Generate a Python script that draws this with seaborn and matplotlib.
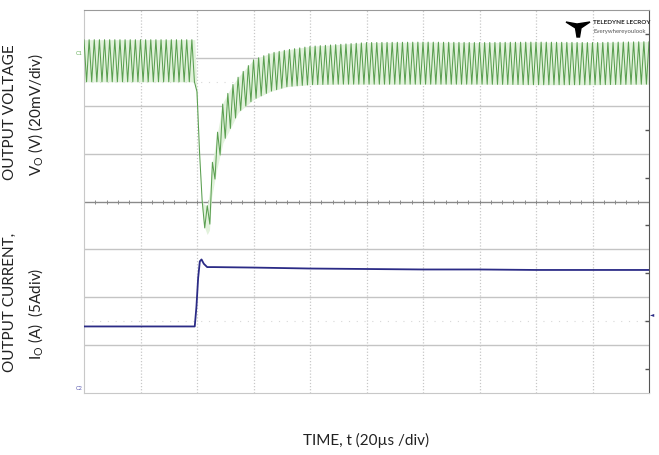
import numpy as np
import pandas as pd
import seaborn as sns
import matplotlib.pyplot as plt
from matplotlib.patches import Polygon

# time axis in divisions (20us/div), amplitudes in divisions
# output voltage ripple envelope (top / bottom of the ripple band)
t_env = [0.0, 1.96, 2.02, 2.05, 2.08, 2.12, 2.18, 2.22, 2.26, 2.35, 2.46, 2.61,
         2.73, 3.0, 3.3, 3.6, 4.0, 4.5, 5.0, 6.0, 7.0, 8.0, 9.0, 10.0]
v_upper = [3.38, 3.38, 1.75, 0.98, 0.05, -0.05, -0.10, 0.20, 0.73, 1.36, 2.07, 2.40,
           2.60, 2.96, 3.10, 3.17, 3.24, 3.28, 3.32, 3.33, 3.32, 3.33, 3.32, 3.34]
v_lower = [2.50, 2.50, 1.65, 0.90, -0.05, -0.50, -0.69, -0.60, 0.10, 0.67, 1.23, 1.57,
           1.86, 2.13, 2.30, 2.40, 2.44, 2.45, 2.45, 2.45, 2.45, 2.44, 2.44, 2.45]
ripple_per_div = 11  # ripple cycles per division

# output current trace
t_cur = [0.0, 1.96, 1.99, 2.02, 2.05, 2.08, 2.12, 2.18, 2.3, 3.0, 4.0, 5.0,
         6.0, 7.0, 8.0, 9.0, 10.0]
i_cur = [-2.61, -2.61, -2.2, -1.6, -1.25, -1.21, -1.30, -1.37, -1.37, -1.38, -1.40,
         -1.41, -1.42, -1.42, -1.43, -1.43, -1.43]

# ripple zigzag between the envelopes
t_rip = np.arange(0, 10.0001, 0.5 / ripple_per_div)
hi = np.interp(t_rip, t_env, v_upper)
lo = np.interp(t_rip, t_env, v_lower)
v_rip = np.where(np.arange(len(t_rip)) % 2 == 0, hi, lo)
volt = pd.DataFrame({"t": t_rip, "v": v_rip})
cur = pd.DataFrame({"t": t_cur, "i": i_cur})

sns.set_style("white")
plt.rcParams["font.family"] = ["Lato", "DejaVu Sans"]
plt.rcParams["mathtext.fontset"] = "custom"
plt.rcParams["mathtext.rm"] = "Lato"

fig = plt.figure(figsize=(6.59, 4.55), dpi=100)
ax = fig.add_axes([84 / 659, 1 - 393 / 455, 565 / 659, 383 / 455])

# graticule
for y in range(-3, 4):
    if y == 0:
        continue
    ax.axhline(y, color="#c4c4c4", lw=1.0, zorder=0)
for x in range(1, 10):
    ax.axvline(x, color="#c8c8c8", lw=0.9, ls=(0, (1, 1.5)), zorder=0)
ax.axhline(0, color="#8a8a8a", lw=1.0, zorder=1)
for y in (2.5, -2.5):
    ax.axhline(y, color="#d8d8d8", lw=0.8, ls=(0, (1, 6)), zorder=0)
ticks = np.arange(0.2, 10, 0.2)
ax.plot(ticks, np.zeros_like(ticks), ls="none", marker="|", ms=3, color="#8a8a8a", mew=0.7)
ax.plot(np.full(8, 9.985), np.arange(-3.5, 4, 1.0), ls="none", marker="_", ms=4, color="#555555")

# traces
ax.fill_between(t_env, v_lower, v_upper, color="#e2f2dc", lw=0, zorder=2)
sns.lineplot(data=volt, x="t", y="v", ax=ax, color="#5a9f50", lw=0.75,
             estimator=None, sort=False, zorder=3)
sns.lineplot(data=cur, x="t", y="i", ax=ax, color="#2b2b86", lw=1.3,
             estimator=None, sort=False, zorder=4)

ax.set_xlim(0, 10)
ax.set_ylim(-4, 4)
ax.set_xticks([])
ax.set_yticks([])
ax.set_xlabel("")
ax.set_ylabel("")
for side in ["left", "bottom"]:
    ax.spines[side].set_color("#c8c8c8")
ax.spines["top"].set_color("#9a9a9a")
ax.spines["right"].set_color("#555555")
ax.spines["right"].set_linestyle((0, (3, 1)))

# scope markers
ax.text(-0.03, 3.1, "C1", color="#6bb35f", fontsize=4, ha="right", va="center")
ax.text(-0.03, -3.9, "C2", color="#5b5bb0", fontsize=4, ha="right", va="center")
ax.text(10.02, -2.36, "◄", color="#2b2b86", fontsize=4, ha="left", va="center",
        family=["DejaVu Sans"])

# logo
W, H = 659, 455
logo = [(566, 22), (577, 24), (590, 22), (581, 28), (579.5, 37), (577, 37), (575.5, 28)]
fig.patches.append(Polygon([(x / W, 1 - y / H) for x, y in logo], closed=True,
                           transform=fig.transFigure, color="black"))
fig.text(593 / W, 1 - 23 / H, "TELEDYNE LECROY", fontsize=4.6, weight="bold",
         va="center", ha="left")
fig.text(593 / W, 1 - 31 / H, "Everywhereyoulook", fontsize=4.3, color="#555555",
         va="center", ha="left")

# labels
lab = dict(rotation=90, fontsize=11, ha="center", va="center", color="#222222")
fig.text(10 / W, 1 - 112 / H, "OUTPUT VOLTAGE", **lab)
fig.text(10 / W, 1 - 302 / H, "OUTPUT CURRENT,", **lab)
fig.text(36 / W, 1 - 115 / H, r"V$_{\mathrm{O}}$ (V) (20mV/div)", **lab)
fig.text(36 / W, 1 - 314 / H, r"I$_{\mathrm{O}}$ (A)  (5Adiv)", **lab)
fig.text(366 / W, 1 - 440 / H, "TIME, t (20µs /div)", fontsize=11,
         ha="center", va="center", color="#222222")

fig.savefig("out.png", dpi=100)
